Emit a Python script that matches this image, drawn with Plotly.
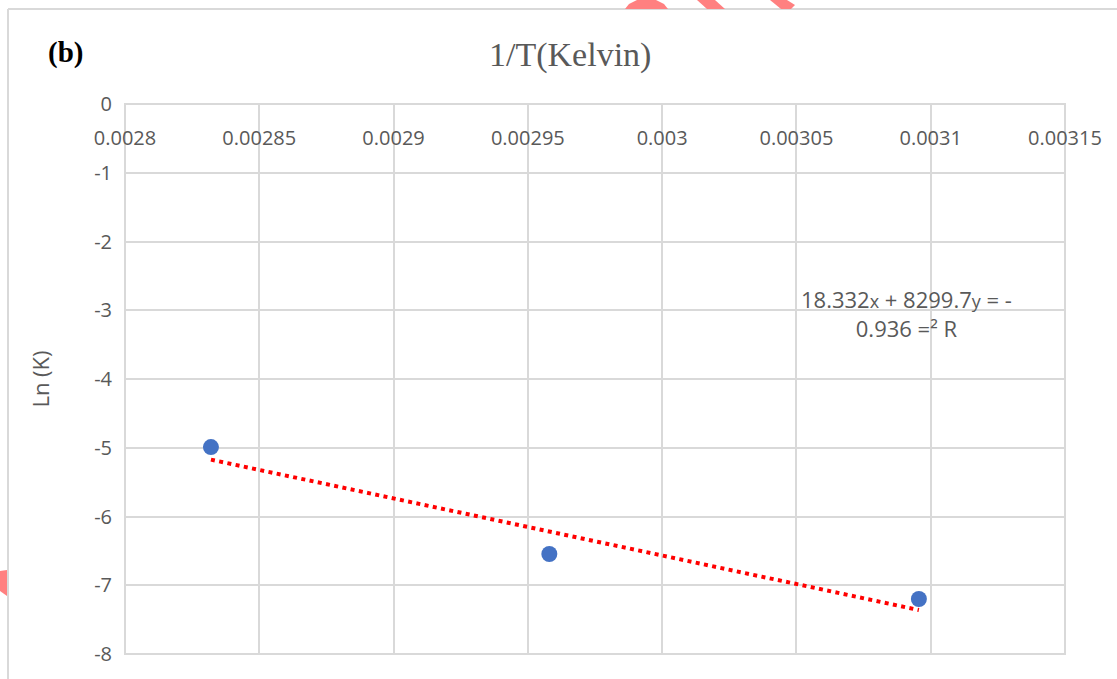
import plotly.graph_objects as go

# Inverse temperature (1/K) and ln of the rate constant
inv_T = [0.002832, 0.002958, 0.0030956]
ln_k = [-4.99, -6.545, -7.2]

# Linear trendline as printed on the chart: y = -8299.7x + 18.332, R² = 0.936
slope = -8299.7
intercept = 18.332
r_squared = 0.936

x_ticks = [0.0028, 0.00285, 0.0029, 0.00295, 0.003, 0.00305, 0.0031, 0.00315]
x_tick_text = ["0.0028", "0.00285", "0.0029", "0.00295", "0.003", "0.00305", "0.0031", "0.00315"]
y_ticks = [0, -1, -2, -3, -4, -5, -6, -7, -8]
y_tick_text = ["0", "-1", "-2", "-3", "-4", "-5", "-6", "-7", "-8"]

grey = "#595959"
grid = "#d9d9d9"
sans = "Open Sans"
serif = "Liberation Serif"

W, H = 1117, 679
L, R, T, B = 125, 52, 104, 25
PW, PH = W - L - R, H - T - B


def px(x):
    return (x - L) / PW


def py(y):
    return 1 - (y - T) / PH


def path(points, close=True):
    s = "M" + " L".join(f"{px(a):.5f},{py(b):.5f}" for a, b in points)
    return s + (" Z" if close else "")


trend_x = [min(inv_T), max(inv_T)]
trend_y = [slope * v + intercept for v in trend_x]

fig = go.Figure()
fig.add_trace(go.Scatter(
    x=trend_x, y=trend_y, mode="lines",
    line=dict(color="#ff0000", width=4, dash="4px,4.4px"),
    hoverinfo="skip", showlegend=False,
))
fig.add_trace(go.Scatter(
    x=inv_T, y=ln_k, mode="markers",
    marker=dict(color="#4472c4", size=16),
    showlegend=False,
))

eq_text = (
    f"{intercept}<span style='font-size:18px'>x</span> + {abs(slope)}"
    f"<span style='font-size:18px'>y</span> = -<br>{r_squared} =² R"
)
fig.add_annotation(
    x=0.0030908, y=-3.04, xref="x", yref="y", text=eq_text, showarrow=False,
    font=dict(family=sans, size=22, color=grey), align="center",
)
fig.add_annotation(
    x=px(570), y=py(55), xref="paper", yref="paper", text="1/T(Kelvin)",
    showarrow=False, font=dict(family=serif, size=34, color=grey),
    xanchor="center", yanchor="middle",
)
fig.add_annotation(
    x=px(46), y=py(52), xref="paper", yref="paper", text="<b>(b)</b>",
    showarrow=False, font=dict(family=serif, size=29, color="#000000"),
    xanchor="left", yanchor="middle",
)

# plot area frame
fig.add_shape(type="rect", xref="paper", yref="paper", x0=0, x1=1, y0=0, y1=1,
              line=dict(color=grid, width=2), layer="below")
# chart frame edges
fig.add_shape(type="line", xref="paper", yref="paper",
              x0=px(8), x1=px(W + 20), y0=py(9), y1=py(9),
              line=dict(color=grid, width=2))
fig.add_shape(type="line", xref="paper", yref="paper",
              x0=px(8), x1=px(8), y0=py(H + 20), y1=py(9),
              line=dict(color=grid, width=2))

# pink stamp fragments along the edges
pink = "#ff8080"
for pts in [
    [(625, 9), (629, 4), (637, 0), (656, 0), (664, 4), (668, 9)],
    [(697, 0), (715, 0), (725, 9), (707, 9)],
    [(770, 0), (787, 0), (795, 5), (791, 9), (781, 9)],
    [(0, 571), (7, 570), (7, 596), (0, 591)],
]:
    fig.add_shape(type="path", xref="paper", yref="paper", path=path(pts),
                  fillcolor=pink, line=dict(width=0))

fig.update_xaxes(
    range=[0.0028, 0.00315], tickvals=x_ticks, ticktext=x_tick_text,
    anchor="free", position=1.0, side="bottom", ticklabelstandoff=20,
    showgrid=True, gridcolor=grid, gridwidth=2, zeroline=False,
    showline=False, ticks="",
    tickfont=dict(family=sans, size=20, color=grey),
)
fig.update_yaxes(
    range=[-8, 0], tickvals=y_ticks, ticktext=y_tick_text,
    showgrid=True, gridcolor=grid, gridwidth=2, zeroline=False,
    showline=False, ticks="",
    ticklabelstandoff=12,
    tickfont=dict(family=sans, size=20, color=grey),
    title=dict(text="Ln (K)", font=dict(family=sans, size=22, color=grey), standoff=38),
)
fig.update_layout(
    width=W, height=H,
    margin=dict(l=L, r=R, t=T, b=B),
    paper_bgcolor="#ffffff", plot_bgcolor="#ffffff",
)
fig.write_html("out.html")
